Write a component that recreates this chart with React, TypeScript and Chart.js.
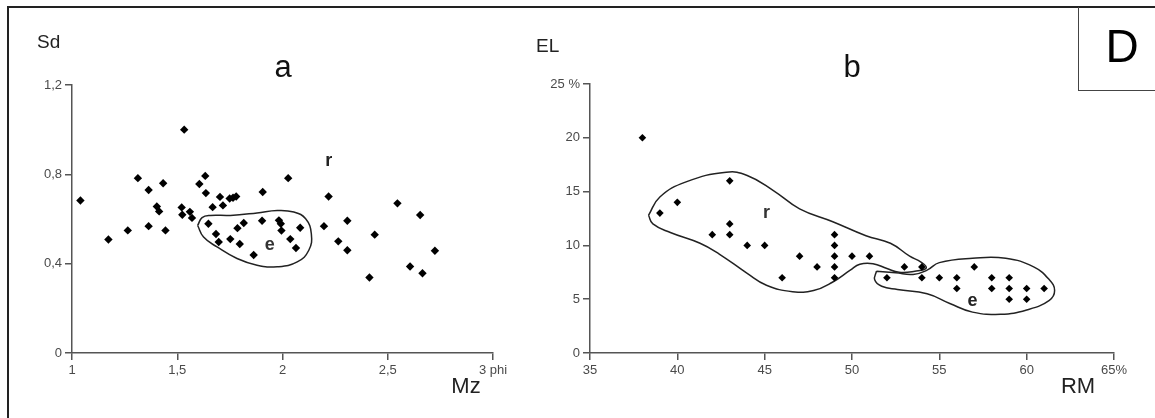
import React, { useEffect, useRef } from "react";
import { Chart, registerables } from "chart.js";

Chart.register(...registerables);

const FONT = '"Liberation Sans", Arial, Helvetica, sans-serif';

// ---------- Panel a : Sd vs Mz ----------
const mzValues = [
  1.04, 1.173, 1.265, 1.313, 1.364, 1.364, 1.403, 1.414, 1.433, 1.444,
  1.533, 1.521, 1.524, 1.56, 1.57, 1.605, 1.633, 1.636, 1.668, 1.703,
  1.717, 1.749, 1.765, 1.78, 1.906, 2.027, 1.648, 1.684, 1.697, 1.752,
  1.786, 1.816, 1.797, 1.863, 1.903, 1.983, 1.992, 1.995, 2.037, 2.084,
  2.064, 2.197, 2.219, 2.265, 2.308, 2.308, 2.413, 2.438, 2.546, 2.606,
  2.654, 2.665, 2.724,
];
const sdValues = [
  0.683, 0.508, 0.549, 0.783, 0.73, 0.568, 0.656, 0.634, 0.76, 0.549,
  1.0, 0.652, 0.619, 0.632, 0.605, 0.757, 0.793, 0.716, 0.653, 0.699,
  0.661, 0.692, 0.695, 0.701, 0.721, 0.783, 0.579, 0.533, 0.497, 0.51,
  0.559, 0.582, 0.488, 0.439, 0.592, 0.594, 0.579, 0.548, 0.51, 0.561,
  0.47, 0.568, 0.701, 0.5, 0.592, 0.46, 0.338, 0.53, 0.67, 0.387,
  0.618, 0.357, 0.458,
];
const aXTickLabels = ["1", "1,5", "2", "2,5", "3 phi"];
const aYTickLabels = ["0", "0,4", "0,8", "1,2"];
// envelope "e" in panel a
const aEnvX = [1.597, 1.618, 1.657, 1.752, 1.879, 1.975, 2.054, 2.11, 2.137, 2.125, 2.07, 1.975, 1.879, 1.784, 1.689, 1.625, 1.597];
const aEnvY = [0.571, 0.606, 0.616, 0.616, 0.627, 0.638, 0.631, 0.601, 0.534, 0.46, 0.408, 0.386, 0.393, 0.423, 0.475, 0.519, 0.571];

// ---------- Panel b : EL vs RM ----------
const rmValues = [
  38, 39, 40, 43, 42, 43, 43, 44, 45, 46, 47, 48, 49, 49, 49, 49, 49, 50,
  51, 52, 53, 54, 54, 55, 56, 56, 57, 58, 58, 59, 59, 59, 60, 60, 61,
];
const elValues = [
  20, 13, 14, 16, 11, 12, 11, 10, 10, 7, 9, 8, 11, 10, 9, 8, 7, 9,
  9, 7, 8, 8, 7, 7, 7, 6, 8, 7, 6, 7, 6, 5, 6, 5, 6,
];
const bXTickLabels = ["35", "40", "45", "50", "55", "60", "65%"];
const bYTickLabels = ["0", "5", "10", "15", "20", "25 %"];
// envelope "r" in panel b
const bEnvRX = [38.35, 39.0, 40.5, 42.8, 44.0, 45.5, 47.0, 48.9, 50.8, 52.2, 53.3, 53.95, 54.25, 53.6, 52.7, 52.0, 51.2, 50.45, 49.9, 48.9, 47.8, 46.6, 45.1, 44.0, 42.4, 41.3, 39.6, 38.6, 38.35];
const bEnvRY = [12.8, 14.5, 15.9, 16.8, 16.5, 15.1, 13.4, 12.2, 10.9, 10.2, 9.0, 8.45, 7.9, 7.6, 7.5, 7.85, 8.3, 8.25, 7.7, 6.6, 5.8, 5.7, 6.3, 7.4, 9.2, 10.2, 11.2, 12.0, 12.8];
// envelope "e" in panel b
const bEnvEX = [51.4, 52.5, 53.5, 54.3, 55.0, 56.9, 58.8, 60.4, 61.3, 61.6, 61.3, 60.0, 58.5, 56.9, 55.6, 54.3, 52.6, 51.7, 51.3, 51.4];
const bEnvEY = [7.6, 7.45, 7.3, 7.7, 8.4, 8.8, 8.8, 8.0, 6.8, 5.8, 4.9, 4.0, 3.6, 3.8, 4.6, 5.5, 5.9, 6.2, 6.8, 7.6];

type Note = {
  text: string;
  x: number;
  y: number;
  size: number;
  bold?: boolean;
  color?: string;
  align?: CanvasTextAlign;
  data?: boolean;
};

function notesPlugin(id: string, notes: Note[]) {
  return {
    id,
    afterDatasetsDraw(chart: any) {
      const { ctx, scales } = chart;
      ctx.save();
      notes.forEach((n) => {
        const px = n.data ? scales.x.getPixelForValue(n.x) : n.x;
        const py = n.data ? scales.y.getPixelForValue(n.y) : n.y;
        ctx.font = `${n.bold ? "bold " : ""}${n.size}px ${FONT}`;
        ctx.fillStyle = n.color || "#111";
        ctx.textAlign = n.align || "center";
        ctx.textBaseline = "middle";
        ctx.fillText(n.text, px, py);
      });
      ctx.restore();
    },
  };
}

function axis(min: number, max: number, step: number, labels: string[], position: string, isX: boolean) {
  return {
    type: "linear",
    position,
    min,
    max,
    ticks: {
      stepSize: step,
      autoSkip: false,
      maxRotation: 0,
      minRotation: 0,
      padding: isX ? 3 : 3,
      color: "#4a4a4a",
      font: { family: FONT, size: 13 },
      callback: (_v: any, i: number) => labels[i],
    },
    grid: {
      drawOnChartArea: false,
      drawTicks: true,
      tickLength: 7,
      color: "#555",
      lineWidth: 1.5,
    },
    border: { display: true, color: "#555", width: 1.5 },
    afterFit: (s: any) => {
      if (isX) s.height = 30;
      else s.width = 40;
    },
  };
}

function pts(xs: number[], ys: number[]) {
  return xs.map((x, i) => ({ x, y: ys[i] }));
}

function envelope(xs: number[], ys: number[]) {
  return {
    data: pts(xs, ys),
    showLine: true,
    tension: 0.45,
    pointRadius: 0,
    borderColor: "#222",
    borderWidth: 1.5,
    fill: false,
    order: 2,
  };
}

export default function App() {
  const refA = useRef<HTMLCanvasElement>(null);
  const refB = useRef<HTMLCanvasElement>(null);

  useEffect(() => {
    const common = {
      responsive: false,
      animation: false,
      events: [],
      plugins: { legend: { display: false }, tooltip: { enabled: false }, title: { display: false } },
    };

    const chartA = new Chart(refA.current as HTMLCanvasElement, {
      type: "scatter",
      data: {
        datasets: [
          {
            data: pts(mzValues, sdValues),
            pointStyle: "rectRot",
            pointRadius: 4.2,
            pointBorderWidth: 0,
            backgroundColor: "#000",
            borderColor: "#000",
            order: 1,
          } as any,
          envelope(aEnvX, aEnvY) as any,
        ],
      },
      options: {
        ...common,
        layout: { padding: { left: 32, right: 662, top: 85, bottom: 35 } },
        scales: {
          x: axis(1, 3, 0.5, aXTickLabels, "bottom", true) as any,
          y: axis(0, 1.2, 0.4, aYTickLabels, "left", false) as any,
        },
      } as any,
      plugins: [
        notesPlugin("notesA", [
          { text: "Sd", x: 37, y: 43, size: 19, align: "left", color: "#222" },
          { text: "a", x: 283, y: 68, size: 31, color: "#111" },
          { text: "r", x: 2.22, y: 0.86, size: 18, bold: true, data: true, color: "#222" },
          { text: "e", x: 1.94, y: 0.485, size: 18, bold: true, data: true, color: "#333" },
          { text: "Mz", x: 466, y: 387, size: 22, color: "#222" },
        ]) as any,
      ],
    });

    const chartB = new Chart(refB.current as HTMLCanvasElement, {
      type: "scatter",
      data: {
        datasets: [
          {
            data: pts(rmValues, elValues),
            pointStyle: "rectRot",
            pointRadius: 3.8,
            pointBorderWidth: 0,
            backgroundColor: "#000",
            borderColor: "#000",
            order: 1,
          } as any,
          envelope(bEnvRX, bEnvRY) as any,
          envelope(bEnvEX, bEnvEY) as any,
        ],
      },
      options: {
        ...common,
        layout: { padding: { left: 550, right: 41, top: 84, bottom: 35 } },
        scales: {
          x: axis(35, 65, 5, bXTickLabels, "bottom", true) as any,
          y: axis(0, 25, 5, bYTickLabels, "left", false) as any,
        },
      } as any,
      plugins: [
        notesPlugin("notesB", [
          { text: "EL", x: 536, y: 47, size: 19, align: "left", color: "#222" },
          { text: "b", x: 852, y: 68, size: 31, color: "#111" },
          { text: "r", x: 45.1, y: 13.0, size: 18, bold: true, data: true, color: "#333" },
          { text: "e", x: 56.9, y: 4.8, size: 18, bold: true, data: true, color: "#222" },
          { text: "RM", x: 1078, y: 387, size: 22, color: "#222" },
        ]) as any,
      ],
    });

    return () => {
      chartA.destroy();
      chartB.destroy();
    };
  }, []);

  return (
    <div
      style={{
        position: "fixed",
        left: 0,
        top: 0,
        width: 1155,
        height: 418,
        background: "#fff",
        overflow: "hidden",
      }}
    >
      <canvas ref={refA} width={1155} height={418} style={{ position: "absolute", left: 0, top: 0 }} />
      <canvas ref={refB} width={1155} height={418} style={{ position: "absolute", left: 0, top: 0 }} />
      <div
        style={{
          position: "absolute",
          left: 7,
          top: 6,
          width: 1200,
          height: 500,
          borderLeft: "2px solid #222",
          borderTop: "2px solid #222",
          boxSizing: "border-box",
        }}
      />
      <div
        style={{
          position: "absolute",
          left: 1078,
          top: 7,
          width: 100,
          height: 84,
          borderLeft: "1px solid #444",
          borderBottom: "1px solid #444",
          boxSizing: "border-box",
        }}
      />
      <div
        style={{
          position: "absolute",
          left: 1079,
          top: 8,
          width: 86,
          height: 82,
          lineHeight: "76px",
          textAlign: "center",
          fontFamily: FONT,
          fontSize: 46,
          color: "#000",
        }}
      >
        D
      </div>
    </div>
  );
}
